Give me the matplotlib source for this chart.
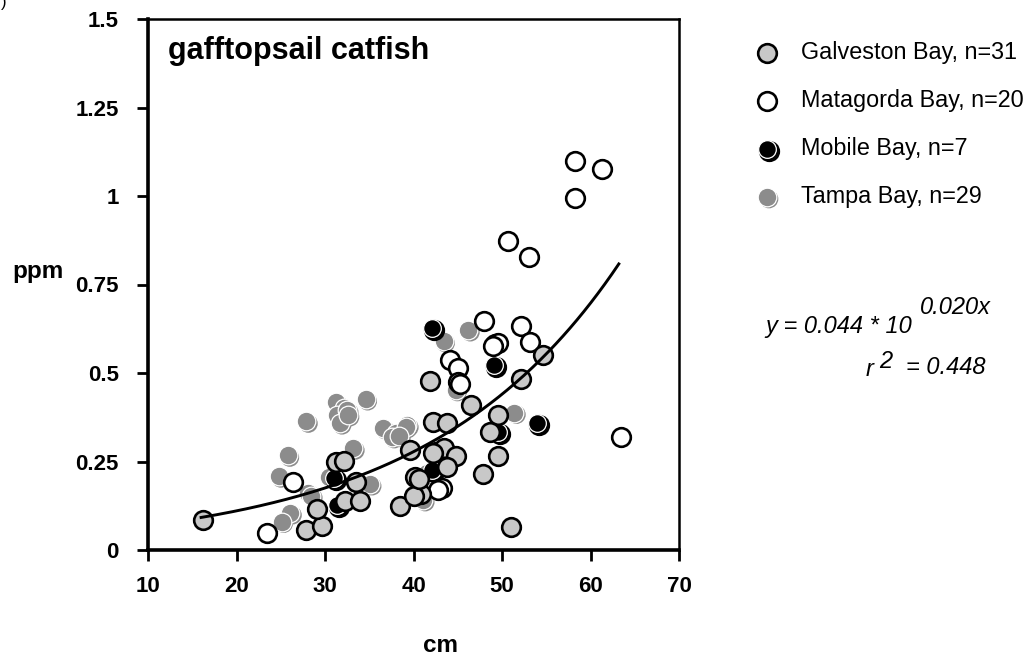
import matplotlib
matplotlib.use("Agg")
import matplotlib.pyplot as plt
import numpy as np
from matplotlib.transforms import offset_copy

plt.rcParams['font.family'] = ['Liberation Sans', 'DejaVu Sans']

# ---------------- data ----------------
galv_cm = [16.2, 27.9, 29.7, 29.1, 32.3, 33.9, 33.5, 31.2, 32.1, 38.45, 39.55, 41.9, 42.2, 43.8,
           54.6, 52.2, 46.45, 49.5, 48.7, 42.5, 43.4, 44.75, 43.8, 49.5, 47.8, 40.2, 40.8, 40.0,
           51.0, 42.2, 40.6]
galv_ppm = [0.086, 0.056, 0.069, 0.117, 0.138, 0.139, 0.193, 0.250, 0.251, 0.123, 0.282, 0.478,
            0.362, 0.358, 0.551, 0.484, 0.410, 0.381, 0.334, 0.278, 0.287, 0.266, 0.235, 0.266,
            0.215, 0.207, 0.158, 0.153, 0.064, 0.273, 0.200]

mata_cm = [58.2, 61.3, 58.2, 50.7, 53.1, 48.0, 52.2, 53.2, 49.2, 49.5, 44.1, 45.0, 45.0, 63.4,
           43.25, 26.4, 23.4, 49.0, 42.8, 45.2]
mata_ppm = [1.100, 1.076, 0.994, 0.874, 0.829, 0.648, 0.634, 0.588, 0.582, 0.586, 0.537, 0.514,
            0.475, 0.318, 0.175, 0.191, 0.047, 0.576, 0.170, 0.469]

mob_cm = [42.1, 49.1, 54.0, 42.1, 31.06, 31.4, 49.5]
mob_ppm = [0.628, 0.523, 0.358, 0.226, 0.203, 0.126, 0.334]

tampa_cm = [27.9, 31.2, 32.1, 31.4, 31.7, 32.5, 34.6, 25.8, 33.2, 24.8, 36.6, 38.0, 39.3, 37.6,
            28.1, 26.1, 25.1, 30.4, 35.1, 43.4, 46.2, 44.75, 51.4, 39.1, 41.55, 41.1, 32.6,
            28.45, 38.4]
tampa_ppm = [0.363, 0.419, 0.400, 0.381, 0.358, 0.395, 0.426, 0.267, 0.287, 0.208, 0.344, 0.330,
             0.352, 0.319, 0.162, 0.104, 0.080, 0.207, 0.186, 0.590, 0.621, 0.452, 0.388, 0.347,
             0.218, 0.141, 0.381, 0.153, 0.322]

series_labels = ['Galveston Bay, n=31', 'Matagorda Bay, n=20', 'Mobile Bay, n=7', 'Tampa Bay, n=29']

fit_a = 0.044
fit_b = 0.020
fit_r2 = 0.448
fit_range = (16.0, 63.2)

xticks = [10, 20, 30, 40, 50, 60, 70]
yticks = [0, 0.25, 0.5, 0.75, 1.0, 1.25, 1.5]
yticklabels = ['0', '0.25', '0.5', '0.75', '1', '1.25', '1.5']

# ---------------- figure ----------------
W, H = 1029, 656
fig = plt.figure(figsize=(W / 100, H / 100), dpi=100)
L, R, T, B = 148, 679, 19, 550
ax = fig.add_axes([L / W, 1 - B / H, (R - L) / W, (B - T) / H])
ax.set_xlim(10, 70)
ax.set_ylim(0, 1.5)

LIGHT = '#c8c8c8'
TGRAY = '#8c8c8c'
S = 180
EW = 1.9

sh = offset_copy(ax.transData, fig=fig, x=2.0, y=-2.0, units='dots')

# Tampa (bottom layer)
ax.scatter(tampa_cm, tampa_ppm, s=S, c=TGRAY, edgecolors='none', transform=sh, zorder=2)
ax.scatter(tampa_cm, tampa_ppm, s=S, c=TGRAY, edgecolors='white', linewidths=0.9, zorder=2.1)
# Mobile
ax.scatter(mob_cm, mob_ppm, s=S, c='black', edgecolors='black', linewidths=EW, transform=sh, zorder=3)
ax.scatter(mob_cm, mob_ppm, s=S * 0.9, c='black', edgecolors='white', linewidths=0.9, zorder=3.1)
# Matagorda
ax.scatter(mata_cm, mata_ppm, s=S, c='white', edgecolors='black', linewidths=EW, zorder=4)
# Galveston
ax.scatter(galv_cm, galv_ppm, s=S, c=LIGHT, edgecolors='black', linewidths=EW, zorder=5)

# fitted curve
xf = np.linspace(fit_range[0], fit_range[1], 300)
yf = fit_a * 10 ** (fit_b * xf)
ax.plot(xf, yf, color='black', lw=2.1, zorder=6)

# axes styling
ax.set_xticks(xticks)
ax.set_xticklabels([str(t) for t in xticks])
ax.set_yticks(yticks)
ax.set_yticklabels(yticklabels)
ax.tick_params(direction='out', length=8, width=2, labelsize=16, colors='black')
ax.tick_params(axis='y', pad=13)
ax.tick_params(axis='x', pad=11)
for lbl in ax.get_xticklabels() + ax.get_yticklabels():
    lbl.set_fontweight('bold')
ax.spines['left'].set_linewidth(2.6)
ax.spines['bottom'].set_linewidth(2.6)
ax.spines['top'].set_linewidth(1.8)
ax.spines['right'].set_linewidth(1.8)

ax.text(0.037, 0.94, 'gafftopsail catfish', transform=ax.transAxes, fontsize=22,
        fontweight='bold', ha='left', va='center')

fig.text(12 / W, 1 - 272 / H, 'ppm', fontsize=17.5, fontweight='bold', ha='left', va='center')
fig.text(441 / W, 1 - 645 / H, 'cm', fontsize=17.5, fontweight='bold', ha='center', va='center')
fig.text(4 / W, 1 - 3 / H, ')', fontsize=12, ha='center', va='center')

# overlay axes in pixel coordinates for legend and equation
ov = fig.add_axes([0, 0, 1, 1], zorder=10)
ov.set_xlim(0, W)
ov.set_ylim(H, 0)
ov.axis('off')
ov.patch.set_alpha(0)
osh = offset_copy(ov.transData, fig=fig, x=2.0, y=-2.0, units='dots')

mx, tx = 767, 801
rows = [53, 101, 149, 197]
ov.scatter([mx], [rows[0]], s=S, c=LIGHT, edgecolors='black', linewidths=EW)
ov.scatter([mx], [rows[1]], s=S, c='white', edgecolors='black', linewidths=EW)
ov.scatter([mx], [rows[2]], s=S, c='black', edgecolors='black', linewidths=EW, transform=osh)
ov.scatter([mx], [rows[2]], s=S * 0.9, c='black', edgecolors='white', linewidths=0.9)
ov.scatter([mx], [rows[3]], s=S, c=TGRAY, edgecolors='none', transform=osh)
ov.scatter([mx], [rows[3]], s=S, c=TGRAY, edgecolors='white', linewidths=0.9)
for r, lab in zip(rows, series_labels):
    ov.text(tx, r, lab, fontsize=16.8, ha='left', va='center')

ov.text(765, 326, 'y = %.3f * 10' % fit_a, fontsize=17, style='italic', ha='left', va='center')
ov.text(920, 308, '%.3fx' % fit_b, fontsize=17, style='italic', ha='left', va='center')
ov.text(866, 370, 'r', fontsize=17, style='italic', ha='left', va='center')
ov.text(879, 361, '2', fontsize=17, style='italic', ha='left', va='center')
ov.text(906, 368, '= %.3f' % fit_r2, fontsize=17, style='italic', ha='left', va='center')

fig.savefig('out.png', dpi=100)
